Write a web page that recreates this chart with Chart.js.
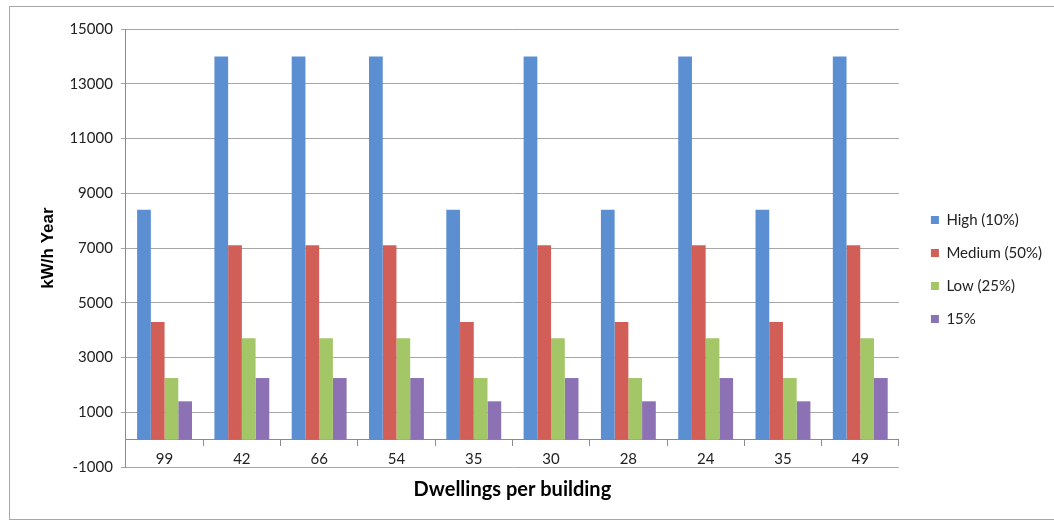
<!DOCTYPE html>
<html>
<head>
<meta charset="utf-8">
<title>Dwellings per building</title>
<script src="https://cdn.jsdelivr.net/npm/chart.js@4.4.1/dist/chart.umd.min.js"></script>
<style>
  html, body { margin: 0; padding: 0; background: #ffffff; }
  #wrap { position: relative; width: 1054px; height: 524px; }
</style>
</head>
<body>
<div id="wrap"><canvas id="chart" width="1054" height="524"></canvas></div>
<script>
// Annual consumption per building, split by occupancy band
const categories = ['99', '42', '66', '54', '35', '30', '28', '24', '35', '49'];
const highValues   = [8400, 14000, 14000, 14000, 8400, 14000, 8400, 14000, 8400, 14000];
const mediumValues = [4300, 7100, 7100, 7100, 4300, 7100, 4300, 7100, 4300, 7100];
const lowValues    = [2250, 3700, 3700, 3700, 2250, 3700, 2250, 3700, 2250, 3700];
const share15Values = [1400, 2250, 2250, 2250, 1400, 2250, 1400, 2250, 1400, 2250];
const seriesNames  = ['High (10%)', 'Medium (50%)', 'Low (25%)', '15%'];
const seriesColors = ['#5B8FD1', '#D15F57', '#A3C667', '#8C72B4'];
const yMin = -1000, yMax = 15000, yStep = 2000;

const seriesValues = [highValues, mediumValues, lowValues, share15Values];

// thin grey frame around the chart
const framePlugin = {
  id: 'frame',
  beforeDraw(chart) {
    const ctx = chart.ctx;
    ctx.save();
    ctx.strokeStyle = '#a8a8a8';
    ctx.lineWidth = 1;
    ctx.strokeRect(9.5, 6.5, 1100, 513);
    ctx.restore();
  }
};

new Chart(document.getElementById('chart'), {
  type: 'bar',
  data: {
    labels: categories,
    datasets: seriesValues.map((vals, i) => ({
      label: seriesNames[i],
      data: vals,
      backgroundColor: seriesColors[i],
      borderWidth: 0,
      categoryPercentage: 0.71,
      barPercentage: 1.0
    }))
  },
  options: {
    responsive: false,
    animation: false,
    layout: { padding: { left: 24, top: 29, right: 2, bottom: 14 } },
    scales: {
      x: {
        position: { y: 0 },
        offset: true,
        grid: { offset: true, drawOnChartArea: false, drawTicks: true, tickLength: 6, color: '#8c8c8c' },
        border: { color: '#8c8c8c' },
        ticks: { font: { family: 'Lato', size: 15 }, color: '#222222', padding: 5, maxRotation: 0 }
      },
      y: {
        min: yMin,
        max: yMax,
        ticks: {
          stepSize: yStep,
          font: { family: 'Lato', size: 15 },
          color: '#222222',
          padding: 8,
          callback: (v) => String(v)
        },
        grid: { color: '#a6a6a6', tickLength: 5 },
        border: { color: '#8c8c8c' },
        title: {
          display: true,
          text: 'kW/h Year',
          font: { family: 'Liberation Sans', weight: 'bold', size: 17 },
          color: '#000000',
          padding: { top: 14, bottom: 3 }
        }
      },
      gap: {
        type: 'linear',
        axis: 'y',
        position: 'right',
        display: true,
        grid: { display: false },
        ticks: { display: false },
        border: { display: false },
        afterFit(scale) { scale.width = 14; }
      }
    },
    plugins: {
      title: {
        display: true,
        position: 'bottom',
        fullSize: false,
        text: 'Dwellings per building',
        font: { family: 'Lato', weight: 'bold', size: 20 },
        color: '#000000',
        padding: { top: 11, bottom: 8 }
      },
      legend: {
        position: 'right',
        labels: {
          boxWidth: 8,
          boxHeight: 8,
          padding: 18,
          font: { family: 'Lato', size: 15 },
          color: '#222222'
        }
      },
      tooltip: { enabled: false }
    }
  },
  plugins: [framePlugin]
});
</script>
</body>
</html>
